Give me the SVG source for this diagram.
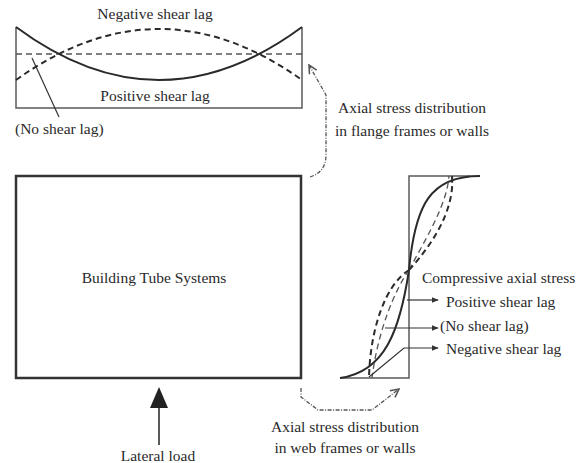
<svg xmlns="http://www.w3.org/2000/svg" width="587" height="463" viewBox="0 0 587 463">
<style>
text{font-family:"Liberation Serif","Times New Roman",serif;font-size:15.5px;fill:#2a2a2a}
.frame{fill:none;stroke:#5a5a5a;stroke-width:1.5}
.solid{fill:none;stroke:#2a2a2a;stroke-width:2}
.dthick{fill:none;stroke:#2a2a2a;stroke-width:2;stroke-dasharray:6 4}
.dthin{fill:none;stroke:#555;stroke-width:1.3;stroke-dasharray:6 4}
.lead{fill:none;stroke:#333;stroke-width:1.2}
.dd{fill:none;stroke:#555;stroke-width:1.3;stroke-dasharray:4 1.5 1 1.5}
</style>
<defs>
<marker id="ah" viewBox="0 0 10 10" refX="9" refY="5" markerWidth="6" markerHeight="6" orient="auto">
<path d="M0,1 L10,5 L0,9 Z" fill="#333"/>
</marker>
<marker id="oh" viewBox="0 0 10 10" refX="9" refY="5" markerWidth="8" markerHeight="8" orient="auto">
<path d="M1,1 L9,5 L1,9" fill="none" stroke="#555" stroke-width="1.5"/>
</marker>
</defs>

<g id="flange">
<path class="frame" d="M16,27 V108 H302 V27"/>
<line class="dthin" x1="16" y1="54" x2="302" y2="54"/>
<path class="solid" d="M16,27 Q159,133 302,27"/>
<path class="dthick" d="M16,80 Q159,-22 302,80"/>
<line class="lead" x1="59" y1="117" x2="32" y2="58"/>
<text x="155" y="19" text-anchor="middle">Negative shear lag</text>
<text x="155" y="101" text-anchor="middle">Positive shear lag</text>
<text x="15" y="134">(No shear lag)</text>
</g>

<g id="building">
<rect x="16" y="176" width="285" height="202" fill="none" stroke="#333" stroke-width="2.5"/>
<text x="154" y="283" text-anchor="middle">Building Tube Systems</text>
</g>

<g id="web">
<path class="frame" d="M470,176 H409 V378 H340"/>
<path class="solid" d="M340,378 C385,372 400,330 409,270 C415,205 430,176 480,176"/>
<path class="dthin" d="M409,270 C425,240 447,205 449,176"/>
<path class="dthin" d="M409,270 C395,290 378,330 372,378"/>
<path class="dthick" d="M409,270 C432,245 455,210 452,176"/>
<path class="dthick" d="M409,270 C385,285 370,330 369,378"/>
<line class="lead" x1="452" y1="176" x2="452" y2="183"/>
<text x="422" y="283">Compressive axial stress</text>
<text x="446" y="307">Positive shear lag</text>
<text x="440" y="331">(No shear lag)</text>
<text x="446" y="354">Negative shear lag</text>
</g>

<g id="load">
<line x1="159" y1="445" x2="159" y2="405" stroke="#222" stroke-width="1.5"/>
<polygon points="159,387 150,408 168,408" fill="#222"/>
<text x="158" y="461" text-anchor="middle">Lateral load</text>
</g>

<g id="labels">
<text x="412" y="113" text-anchor="middle">Axial stress distribution</text>
<text x="412" y="136" text-anchor="middle">in flange frames or walls</text>
<text x="345" y="432" text-anchor="middle">Axial stress distribution</text>
<text x="345" y="453" text-anchor="middle">in web frames or walls</text>
</g>

<g id="connectors">
<path class="lead" d="M407,300 H438" marker-end="url(#ah)"/>
<path class="lead" d="M385,328 H438" marker-end="url(#ah)"/>
<path class="lead" d="M369,377 L404,348 H438" marker-end="url(#ah)"/>
<path class="dd" d="M310,177 Q326,172 326,155 V95 L309,65" marker-end="url(#oh)"/>
<path class="dd" d="M301,388 V397 L318,410 H372 L399,389" marker-end="url(#oh)"/>
</g>
</svg>
